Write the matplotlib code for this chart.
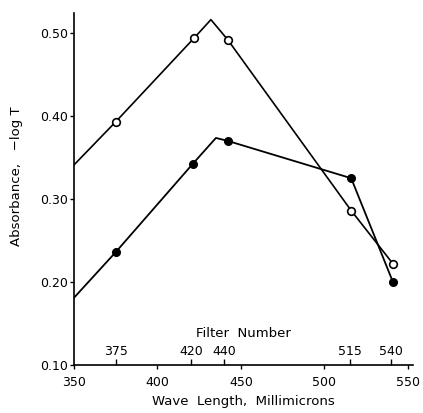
import matplotlib
matplotlib.use("Agg")
import matplotlib.pyplot as plt

# wave length (millimicrons) vs absorbance
open_wl = [350, 375, 422, 432, 442, 516, 541]
open_abs = [0.341, 0.393, 0.494, 0.516, 0.492, 0.286, 0.222]
filled_wl = [350, 375, 421, 435, 442, 516, 541]
filled_abs = [0.181, 0.236, 0.342, 0.3735, 0.370, 0.325, 0.200]
measured = [1, 2, 4, 5, 6]  # vertices that carry a marker

filter_numbers = [375, 420, 440, 515, 540]
wl_ticks = [350, 400, 450, 500, 550]
abs_ticks = [0.10, 0.20, 0.30, 0.40, 0.50]

plt.rcParams['font.family'] = 'DejaVu Sans'

fig = plt.figure(figsize=(4.23, 4.13), dpi=100)
ax = fig.add_axes([0.1749, 0.1162, 0.8014, 0.8523])

ax.plot(open_wl, open_abs, '-', color='black', linewidth=1.2,
        marker='o', markevery=measured, markersize=5.5,
        markerfacecolor='white', markeredgecolor='black', markeredgewidth=1.2)
ax.plot(filled_wl, filled_abs, '-', color='black', linewidth=1.3,
        marker='o', markevery=measured, markersize=5.5,
        markerfacecolor='black', markeredgecolor='black')

ax.set_xlim(350, 553)
ax.set_ylim(0.10, 0.524)
ax.spines['top'].set_visible(False)
ax.spines['right'].set_visible(False)
ax.spines['left'].set_linewidth(1.2)
ax.spines['bottom'].set_linewidth(1.2)

ax.set_xticks(wl_ticks)
ax.set_xticklabels([str(v) for v in wl_ticks])
ax.set_yticks(abs_ticks)
ax.set_yticklabels(['%.2f' % v for v in abs_ticks])
ax.tick_params(axis='both', direction='out', length=3, width=1, labelsize=9)
ax.tick_params(axis='x', pad=5)
ax.tick_params(axis='y', pad=1)

ax.set_xlabel('Wave  Length,  Millimicrons', fontsize=9.5, labelpad=4)
ax.set_ylabel('Absorbance,   \u2212log T', fontsize=9.5, labelpad=8)
ax.yaxis.set_label_coords(-0.15, 0.537)

# filter numbers sit on the same baseline, labels above it
sec = ax.secondary_xaxis(0.0)
sec.set_alignment('top')
sec.set_xticks(filter_numbers)
sec.set_xticklabels([str(v) for v in filter_numbers])
sec.tick_params(axis='x', direction='out', length=4, width=1, labelsize=9, pad=1)
sec.spines['top'].set_visible(False)
sec.spines['bottom'].set_visible(False)
sec.set_xlabel('Filter  Number', fontsize=9.5, labelpad=6)

fig.savefig('out.png', dpi=100)
